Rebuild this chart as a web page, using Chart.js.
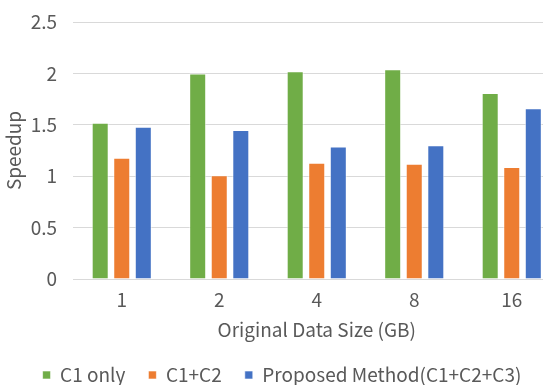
<!DOCTYPE html>
<html>
<head>
<meta charset="utf-8">
<script src="https://cdn.jsdelivr.net/npm/chart.js@4"></script>
<style>
  html, body { margin: 0; padding: 0; background: #fff; }
  #clip { width: 543px; height: 385px; overflow: hidden; }
  #wrap { width: 600px; height: 385px; }
</style>
</head>
<body>
<div id="clip"><div id="wrap"><canvas id="speedupChart"></canvas></div></div>
<script>
const sizes = ["1", "2", "4", "8", "16"];
const c1Only = [1.52, 2.00, 2.02, 2.04, 1.81];
const c1c2 = [1.18, 1.01, 1.13, 1.12, 1.09];
const proposed = [1.48, 1.45, 1.29, 1.30, 1.66];
const yTicks = [0, 0.5, 1, 1.5, 2, 2.5];

const textColor = "#595959";
const fontFamily = "'Noto Sans CJK SC', 'Noto Sans', sans-serif";

// the plot area in the original runs past the right edge of the image,
// so the canvas is wider than the window and the boxes are pinned after layout
const plotBox = { left: 73, top: 22, right: 560.5, bottom: 279 };
const legendCenter = { x: 282, y: 375 };

const pinLayout = {
  id: 'pinLayout',
  afterLayout(chart) {
    const { x, y } = chart.scales;
    Object.assign(chart.chartArea, plotBox);
    chart.chartArea.width = plotBox.right - plotBox.left;
    chart.chartArea.height = plotBox.bottom - plotBox.top;

    y.left = 0; y.right = plotBox.left;
    y.top = plotBox.top; y.bottom = plotBox.bottom;
    y.width = y.right - y.left; y.height = y.bottom - y.top;
    y.configure();

    x.left = plotBox.left; x.right = plotBox.right;
    x.top = plotBox.bottom; x.bottom = 346;
    x.width = x.right - x.left; x.height = x.bottom - x.top;
    x.configure();

    const lg = chart.legend;
    const p = lg.options.labels.padding;
    const fs = lg.options.labels.font.size;
    const h = lg.height;
    lg.top = legendCenter.y - p - fs / 2;
    lg.bottom = lg.top + h;
    lg.left = legendCenter.x - 285;
    lg.right = legendCenter.x + 285;
    lg.width = lg.right - lg.left;
  }
};

new Chart(document.getElementById("speedupChart"), {
  type: 'bar',
  data: {
    labels: sizes,
    datasets: [
      { label: "C1 only", data: c1Only, backgroundColor: "#70AD47" },
      { label: "C1+C2", data: c1c2, backgroundColor: "#ED7D31" },
      { label: "Proposed Method(C1+C2+C3)", data: proposed, backgroundColor: "#4472C4" }
    ]
  },
  plugins: [pinLayout],
  options: {
    responsive: true,
    maintainAspectRatio: false,
    animation: false,
    datasets: {
      bar: {
        categoryPercentage: 0.663,
        barPercentage: 0.79,
        borderColor: "rgba(255,255,255,0.6)",
        borderWidth: 1
      }
    },
    plugins: {
      legend: {
        position: 'bottom',
        labels: {
          color: textColor,
          font: { family: fontFamily, size: 19 },
          boxWidth: 8,
          boxHeight: 8,
          padding: 23
        }
      },
      tooltip: { enabled: false }
    },
    scales: {
      x: {
        grid: { display: false, drawTicks: false },
        border: { display: false },
        ticks: { color: textColor, font: { family: fontFamily, size: 19 }, padding: 9 },
        title: {
          display: true,
          text: "Original Data Size (GB)",
          color: textColor,
          font: { family: fontFamily, size: 19 },
          padding: { top: 0, bottom: 5 }
        }
      },
      y: {
        min: 0,
        max: 2.5,
        afterBuildTicks: axis => { axis.ticks = yTicks.map(v => ({ value: v })); },
        grid: { color: "#d9d9d9", lineWidth: 1, drawTicks: false },
        border: { display: false },
        ticks: {
          color: textColor,
          font: { family: fontFamily, size: 19 },
          padding: 16,
          callback: v => String(v)
        },
        title: {
          display: true,
          text: "Speedup",
          color: textColor,
          font: { family: fontFamily, size: 19 },
          padding: { top: 2, bottom: 0 }
        }
      }
    }
  }
});
</script>
</body>
</html>
